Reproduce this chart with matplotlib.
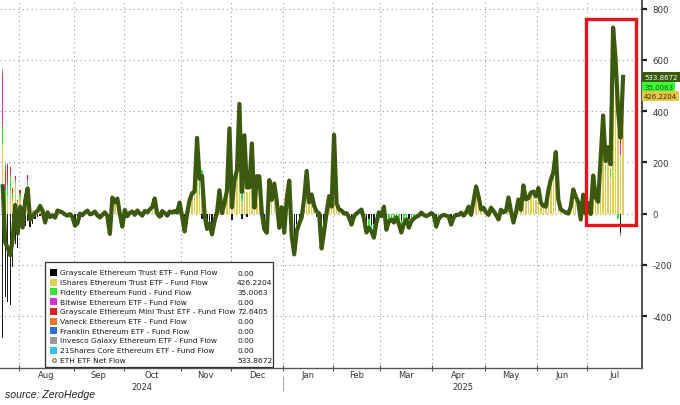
import numpy as np
import pandas as pd
import matplotlib
matplotlib.use("Agg")
import matplotlib.pyplot as plt
from matplotlib.patches import Rectangle
from matplotlib.lines import Line2D
import matplotlib.transforms as mtrans

plt.rcParams['font.family'] = ['DejaVu Sans']

# ---------------- data ----------------
holidays = ["2024-09-02", "2024-11-28", "2024-12-25", "2025-01-01", "2025-01-09",
            "2025-01-20", "2025-02-17", "2025-04-18", "2025-05-26", "2025-06-19", "2025-07-04"]
axis_days = pd.bdate_range("2024-07-23", "2025-07-31", freq="C", holidays=holidays)

net_jul24 = [106.6, -113.3, -133.3, -162.7, -98.3, 33.7, -77.2]
net_aug24 = [26.7, -54.3, 48.8, 98.4, -23.7, -12.0, 4.4, 10.0, 30.0, 10.8, -35.0, 5.0, -13.5, -6.5,
             -16.0, 12.0, 8.0, 4.0, -3.5, -8.0, -1.8, -15.0]
net_sep24 = [-47.4, -37.5, -0.2, -6.0, 5.0, 11.4, -3.0, 0.0, 8.0, -7.0, -15.1, -5.0, 5.0, -10.0,
             -79.3, 62.5, 43.2, 58.7, 0.0, -51.0]
net_oct24 = [14.0, -10.0, 3.0, 8.0, -5.0, 12.0, 0.5, -8.0, 10.0, 5.0, 16.0, 25.0, 59.0, 0.0, -12.0,
             10.0, 2.0, -8.0, 8.0, 4.0, 10.0, 4.0, 43.0]
net_nov24 = [-10.9, -70.0, 0.0, 52.3, 79.7, 85.9, 295.5, 135.9, 146.9, -3.2, -59.8, -39.1, -81.2,
             -30.0, 4.0, 91.2, 2.8, 40.7, 90.1, 332.9]
net_dec24 = [24.2, 132.6, 167.7, 428.5, 83.8, 305.7, 102.1, 102.2, 273.7, 23.6, 145.7, 145.6, 2.5,
             -60.5, -75.1, 130.8, 53.6, 117.2, 47.8, -55.4, 25.0]
net_jan25 = [-74.0, 58.9, 128.7, -86.8, -159.4, -68.4, -39.4, -15.0, 60.0, 166.6, 43.0, 74.5, 30.0,
             8.0, 0.0, -136.2, -70.0, 4.0, 67.8, 27.0]
net_feb25 = [307.8, 40.0, 16.0, 12.0, 0.0, 2.0, -15.0, -43.0, -10.0, 0.0, 8.0, 16.0, -20.0, -74.0,
             -55.0, -70.0, -94.0, -35.0, 5.0]
net_mar25 = [-10.0, 27.0, -63.0, -30.0, -23.0, -35.0, -15.0, -40.0, -74.0, -40.0, -23.0, -55.0,
             -30.0, -20.0, -12.0, -8.0, 4.0, -5.0, -10.0, -5.0, 2.0]
net_apr25 = [-5.0, -51.0, -20.0, -10.0, -5.0, -8.0, -12.0, -43.0, -15.0, -5.0, -5.0, 3.0, -8.0, 5.0,
             27.0, -5.0, 50.0, 106.0, 67.0, 16.0, 23.0]
net_may25 = [5.0, -5.0, 23.0, 10.0, -5.0, -23.0, 15.0, 5.0, 10.0, 63.0, 10.0, -35.0, 5.0, 55.0, 15.0,
             110.0, 55.0, 60.0, 82.0, 86.0, 67.0]
net_jun25 = [100.0, 43.0, 30.0, 27.0, 90.0, 133.0, 160.0, 240.3, 55.0, 16.0, 10.0, 4.0, 0.0, 27.0,
             94.0, 67.0, 45.0, -23.0, 74.0, 0.0]
net_jul25 = [40.7, -1.8, 148.5, 62.1, 46.2, 211.3, 383.1, 204.9, 259.0, 192.3, 726.6, 602.0, 402.5,
             296.6, 533.8672]

ishares_jul24 = [266.5, 17.4, 70.0, 87.2, 58.8, 118.4, 47.0]
ishares_aug24 = [61.7, 22.0, 47.1, 109.9, 18.0, 15.0, 10.0, 18.0, 23.0, 20.0, 6.0, 12.0, 0.0, 5.0,
                 0.0, 14.0, 10.0, 6.0, 0.0, 0.0, 2.0, 0.0]
ishares_sep24 = [0, 0, 4, 0, 8, 10, 0, 3, 6, 0, 0, 0, 5, 0, 0, 51, 35, 46, 4, 0]
ishares_oct24 = [12, 0, 4, 6, 0, 10, 2, 0, 8, 5, 14, 20, 46, 3, 0, 8, 3, 0, 7, 5, 9, 5, 35]
ishares_nov24 = [0, 0, 4, 39, 60, 70, 165, 70, 130, 10, 0, 0, 0, 5, 10, 70, 8, 35, 75, 250]
ishares_dec24 = [20, 80, 130, 290, 50, 230, 85, 90, 200, 20, 110, 100, 10, 0, 0, 110, 45, 90, 40, 0, 20]
ishares_jan25 = [0, 50, 100, 10, 0, 0, 0, 5, 50, 130, 35, 60, 25, 10, 4, 0, 0, 8, 55, 22]
ishares_feb25 = [276, 35, 14, 10, 3, 4, 0, 0, 0, 2, 7, 14, 0, 0, 0, 0, 0, 0, 5]
ishares_mar25 = [0, 22, 0, 0, 0, 0, 0, 0, 0, 0, 0, 0, 0, 0, 0, 0, 4, 0, 0, 0, 2]
ishares_apr25 = [0, 0, 0, 0, 0, 0, 0, 0, 0, 0, 0, 3, 0, 4, 22, 0, 40, 85, 55, 14, 20]
ishares_may25 = [4, 0, 20, 8, 0, 0, 12, 4, 8, 50, 8, 0, 5, 45, 12, 90, 45, 50, 70, 70, 55]
ishares_jun25 = [80, 35, 25, 22, 75, 110, 130, 163, 45, 14, 10, 5, 2, 22, 78, 55, 38, 0, 60, 3]
ishares_jul25 = [35, 5, 125, 55, 40, 159, 300, 166, 198, 139, 499, 546, 440, 230, 426.2204]

grayscale_flow = {
    "2024-07-23": -484.1, "2024-07-24": -326.9, "2024-07-25": -346.2, "2024-07-26": -356.3,
    "2024-07-29": -210.0, "2024-07-30": -120.3, "2024-07-31": -133.0, "2024-08-01": -45.0,
    "2024-08-02": -61.2, "2024-08-05": -46.8, "2024-08-06": -30.0, "2024-08-07": -52.0,
    "2024-08-08": -39.0, "2024-08-09": -19.8, "2024-08-12": -13.0, "2024-08-13": -10.0,
    "2024-08-14": -12.0, "2024-08-15": -41.0, "2024-08-16": -8.0, "2024-08-19": -13.5,
    "2024-08-20": -11.5, "2024-08-21": -16.0, "2024-08-22": -4.0, "2024-08-26": -6.0,
    "2024-08-27": -3.5, "2024-08-28": -8.0, "2024-08-29": -4.0, "2024-08-30": -15.0,
    "2024-09-03": -47.4, "2024-09-04": -37.5, "2024-09-05": -4.0, "2024-09-06": -6.0,
    "2024-09-11": -3.0, "2024-09-16": -7.0, "2024-09-17": -15.1, "2024-09-18": -5.0,
    "2024-09-20": -10.0, "2024-09-23": -74.3, "2024-09-27": -4.0, "2024-09-30": -51.0,
    "2024-10-02": -10.0, "2024-10-07": -5.0, "2024-10-10": -8.0, "2024-10-22": -12.0,
    "2024-10-25": -8.0, "2024-11-01": -10.9, "2024-11-04": -45.0, "2024-11-05": -4.0,
    "2024-11-13": -23.0, "2024-11-14": -13.2, "2024-11-15": -39.8, "2024-11-18": -39.1,
    "2024-11-19": -41.2, "2024-11-20": -35.0, "2024-11-21": -6.0, "2024-11-25": -5.2,
    "2024-12-02": -25.0, "2024-12-06": -20.0, "2024-12-10": -15.0, "2024-12-18": -7.5,
    "2024-12-19": -30.5, "2024-12-20": -40.1, "2024-12-30": -30.4, "2025-01-02": -44.0,
    "2025-01-07": -41.8, "2025-01-08": -89.4, "2025-01-10": -40.4, "2025-01-13": -39.4,
    "2025-01-14": -20.0, "2025-01-23": -15.0, "2025-01-27": -66.2, "2025-01-28": -40.0,
    "2025-02-11": -15.0, "2025-02-12": -30.0, "2025-02-20": -20.0, "2025-02-21": -54.0,
    "2025-02-24": -21.0, "2025-02-25": -45.0, "2025-02-26": -40.0, "2025-03-05": -23.0,
    "2025-03-13": -30.0, "2025-03-18": -20.0, "2025-04-02": -21.0, "2025-04-10": -23.0,
    "2025-07-21": -74.0,
}
fidelity_flow = {
    "2024-07-23": 71.3, "2024-07-24": 74.5, "2024-07-25": 43.0, "2024-07-26": 60.0,
    "2024-07-29": 16.0, "2024-07-30": 12.0, "2024-07-31": 2.0, "2024-08-01": 15.0,
    "2024-08-05": 16.0, "2024-08-06": 15.0, "2024-09-23": -5.0, "2024-09-24": 8.0,
    "2024-09-26": 10.0, "2024-11-04": -25.0, "2024-11-06": 15.0, "2024-11-08": 12.0,
    "2024-11-11": 115.0, "2024-11-12": 60.0, "2024-11-13": 40.0, "2024-11-15": -20.0,
    "2024-11-19": -40.0, "2024-11-22": 20.0, "2024-11-29": 60.0, "2024-12-03": 40.0,
    "2024-12-04": 30.0, "2024-12-05": 110.0, "2024-12-06": 40.0, "2024-12-09": 60.0,
    "2024-12-12": 60.0, "2024-12-16": 30.0, "2024-12-17": 45.0, "2024-12-19": -30.0,
    "2024-12-20": -35.0, "2024-12-23": 20.0, "2024-12-26": 27.0, "2024-12-30": -25.0,
    "2025-01-02": -30.0, "2025-01-06": 28.0, "2025-01-07": -45.0, "2025-01-08": -70.0,
    "2025-01-10": -28.0, "2025-01-16": 36.0, "2025-01-27": -70.0, "2025-01-28": -30.0,
    "2025-02-03": 25.0, "2025-02-12": -13.0, "2025-02-21": -20.0, "2025-02-24": -34.0,
    "2025-02-25": -25.0, "2025-02-26": -54.0, "2025-02-27": -35.0,
    "2025-03-03": -10.0, "2025-03-05": -40.0, "2025-03-06": -30.0, "2025-03-07": -23.0,
    "2025-03-10": -35.0, "2025-03-11": -15.0, "2025-03-12": -40.0, "2025-03-13": -44.0,
    "2025-03-14": -40.0, "2025-03-17": -23.0, "2025-03-18": -35.0, "2025-03-19": -30.0,
    "2025-03-20": -20.0, "2025-03-21": -12.0, "2025-03-24": -8.0, "2025-03-26": -5.0,
    "2025-03-27": -10.0, "2025-03-28": -5.0, "2025-04-01": -5.0, "2025-04-02": -30.0,
    "2025-04-03": -20.0, "2025-04-04": -10.0, "2025-04-07": -5.0, "2025-04-08": -8.0,
    "2025-04-09": -12.0, "2025-04-10": -20.0, "2025-04-11": -15.0, "2025-04-14": -5.0,
    "2025-04-15": -5.0, "2025-04-17": -8.0, "2025-04-23": -5.0, "2025-04-24": 10.0,
    "2025-04-25": 21.0, "2025-05-02": -5.0, "2025-05-07": -5.0, "2025-05-08": -23.0,
    "2025-05-14": 13.0, "2025-05-16": -35.0, "2025-05-20": 10.0, "2025-05-22": 20.0,
    "2025-05-29": 16.0, "2025-06-02": 20.0, "2025-06-09": 15.0, "2025-06-10": 23.0,
    "2025-06-11": 60.0, "2025-06-24": 16.0, "2025-06-26": -23.0, "2025-06-27": 14.0,
    "2025-07-03": 23.0, "2025-07-10": 50.0, "2025-07-11": 25.0, "2025-07-14": 40.0,
    "2025-07-15": 35.0, "2025-07-16": 113.0, "2025-07-17": 30.0, "2025-07-18": -20.0,
    "2025-07-21": -15.0, "2025-07-22": 35.0063,
}
bitwise_flow = {"2024-07-23": 204.2, "2024-07-24": 29.1, "2024-07-25": 15.0, "2024-07-26": 10.0,
                "2024-07-29": 7.0, "2024-07-30": 5.0, "2024-08-01": 4.0, "2024-08-06": 6.0,
                "2024-11-12": 8.0, "2024-12-05": 8.0, "2025-07-16": 25.0, "2025-07-21": 40.0}
mini_flow = {"2024-07-24": 45.9, "2024-07-25": 60.0, "2024-07-26": 26.0, "2024-07-29": 20.0,
             "2024-07-30": 12.0, "2024-07-31": 3.0, "2024-08-01": 10.0, "2024-08-05": 12.0,
             "2024-08-06": 18.0, "2024-11-12": 10.0, "2024-11-29": 15.0, "2024-12-05": 20.0,
             "2024-12-09": 10.0, "2025-07-10": 20.0, "2025-07-16": 60.0, "2025-07-17": 20.0,
             "2025-07-21": 60.0, "2025-07-22": 72.6405}
vaneck_flow = {"2024-07-23": 9.8, "2024-07-24": 10.0, "2024-07-25": 6.0}
franklin_flow = {"2024-07-23": 2.3, "2024-07-24": 8.0}
invesco_flow = {"2024-07-23": 10.2, "2024-07-24": 3.0, "2024-07-25": 4.0}
shares21_flow = {"2024-07-23": 2.0, "2024-07-24": 5.0}

legend_labels = ["Grayscale Ethereum Trust ETF - Fund Flow", "iShares Ethereum Trust ETF - Fund Flow",
                 "Fidelity Ethereum Fund - Fund Flow", "Bitwise Ethereum ETF - Fund Flow",
                 "Grayscale Ethereum Mini Trust ETF - Fund Flow", "Vaneck Ethereum ETF - Fund Flow",
                 "Franklin Ethereum ETF - Fund Flow", "Invesco Galaxy Ethereum ETF - Fund Flow",
                 "21Shares Core Ethereum ETF - Fund Flow", "ETH ETF Net Flow"]
legend_values = ["0.00", "426.2204", "35.0063", "0.00", "72.6405", "0.00", "0.00", "0.00", "0.00",
                 "533.8672"]
month_names = ["Aug", "Sep", "Oct", "Nov", "Dec", "Jan", "Feb", "Mar", "Apr", "May", "Jun", "Jul"]
year_names = ["2024", "2025"]
ytick_vals = [-400, -200, 0, 200, 400, 600, 800]

# ---------------- assemble ----------------
net = np.array(net_jul24 + net_aug24 + net_sep24 + net_oct24 + net_nov24 + net_dec24 + net_jan25 +
               net_feb25 + net_mar25 + net_apr25 + net_may25 + net_jun25 + net_jul25)
ishares = np.array(ishares_jul24 + ishares_aug24 + ishares_sep24 + ishares_oct24 + ishares_nov24 +
                   ishares_dec24 + ishares_jan25 + ishares_feb25 + ishares_mar25 + ishares_apr25 +
                   ishares_may25 + ishares_jun25 + ishares_jul25, dtype=float)
n = len(net)
data_days = axis_days[:n]
pos_of = {d.strftime("%Y-%m-%d"): i for i, d in enumerate(data_days)}


def from_dict(dct):
    arr = np.zeros(n)
    for k, v in dct.items():
        if k in pos_of:
            arr[pos_of[k]] = v
    return arr


idx = np.arange(n)
series = [
    (from_dict(grayscale_flow), "#1c1c1c"),
    (ishares, "#e6cb52"),
    (from_dict(fidelity_flow), "#33e633"),
    (from_dict(bitwise_flow), "#d633d6"),
    (from_dict(mini_flow), "#e02020"),
    (from_dict(vaneck_flow), "#e8772a"),
    (from_dict(franklin_flow), "#2f6fd6"),
    (from_dict(invesco_flow), "#9a9a9a"),
    (from_dict(shares21_flow), "#35c3ee"),
]
legend_colors = ["#000000"] + [c for _, c in series[1:]]

# ---------------- figure ----------------
W, H = 680, 406
fig = plt.figure(figsize=(W / 100, H / 100), dpi=100)
fig.patch.set_facecolor("white")
ax_left, ax_right, ax_top, ax_bottom = 0, 642, 0, 369
ax = fig.add_axes([ax_left / W, 1 - ax_bottom / H, (ax_right - ax_left) / W, (ax_bottom - ax_top) / H])
ax.set_xlim(-1.1, 256.6)
ax.set_ylim(-603, 838)
ax.set_facecolor("white")

# month boundaries
months = axis_days.to_period("M")
starts = [i for i in range(len(axis_days)) if i == 0 or months[i] != months[i - 1]]
bounds = [s - 0.5 for s in starts] + [len(axis_days) - 0.5]
inner = bounds[1:-1]

grid_kw = dict(color="#9a9a9a", lw=0.8, linestyle=(0, (1, 3)), zorder=0)
for yv in ytick_vals:
    ax.axhline(yv, **grid_kw)
for b in inner:
    ax.axvline(b, **grid_kw)

# stacked bars
pos_base = np.zeros(n)
neg_base = np.zeros(n)
for vals, col in series:
    pos = np.where(vals > 0, vals, 0.0)
    neg = np.where(vals < 0, vals, 0.0)
    ax.bar(idx, pos, bottom=pos_base, width=0.55, color=col, lw=0, zorder=2)
    ax.bar(idx, neg, bottom=neg_base, width=0.55, color=col, lw=0, zorder=2)
    pos_base += pos
    neg_base += neg

# net line
ax.plot(idx, net, color="#3b5a0f", lw=3.0, solid_joinstyle="round", zorder=4)

# red box
ax.add_patch(Rectangle((234.1, -43), 20.1, 802, fill=False, ec="#e8141c", lw=2.4, zorder=6))

# axes styling
for s in ["left", "top"]:
    ax.spines[s].set_visible(False)
ax.spines["right"].set_color("#333333")
ax.spines["right"].set_linewidth(1.2)
ax.spines["bottom"].set_color("#555555")
ax.spines["bottom"].set_linewidth(1.0)
ax.spines["bottom"].set_linestyle((0, (3, 1)))

ax.yaxis.tick_right()
ax.set_yticks(ytick_vals)
ax.set_yticklabels([str(v) for v in ytick_vals])
ax.tick_params(axis="y", direction="out", length=3.5, width=1.6, color="#222222", pad=4,
               labelsize=6.2, labelcolor="#333333")
ax.set_xticks(inner)
ax.set_xticklabels([])
ax.tick_params(axis="x", direction="inout", length=4, width=0.8, color="#555555")

trans = mtrans.blended_transform_factory(ax.transData, ax.transAxes)
ax_h = ax_bottom - ax_top
month_y = -(376 - ax_bottom) / ax_h
year_y = -(388 - ax_bottom) / ax_h
for k, name in enumerate(month_names):
    c = (bounds[k + 1] + bounds[k + 2]) / 2
    ax.text(c, month_y, name, transform=trans, ha="center", va="center", fontsize=6.0,
            color="#333333", clip_on=False)
xl = ax.get_xlim()
jan_b = bounds[6]
ax.text((xl[0] + jan_b) / 2, year_y, year_names[0], transform=trans, ha="center", va="center",
        fontsize=6.0, color="#333333", clip_on=False)
ax.text((jan_b + xl[1]) / 2, year_y, year_names[1], transform=trans, ha="center", va="center",
        fontsize=6.0, color="#333333", clip_on=False)
ax.add_line(Line2D([jan_b, jan_b], [-(378 - ax_bottom) / ax_h, -(391 - ax_bottom) / ax_h],
                   transform=trans, color="#aaaaaa", lw=0.8, clip_on=False))

# right-side value boxes (background strips + text)
last = n - 1
box_specs = [(legend_values[9], "#3b5a0f", "white", 0),
             (legend_values[2], "#33ff33", "#1a5a1a", -10),
             (legend_values[1], "#e6c44a", "#3a3000", -19)]
for txt, fc, tc, dy in box_specs:
    ax.annotate(txt, xy=(1.0, net[last]), xycoords=("axes fraction", "data"),
                xytext=(2, dy), textcoords="offset pixels", ha="left", va="center",
                fontsize=5.0, color=tc, annotation_clip=False,
                bbox=dict(boxstyle="square,pad=0.3", fc=fc, ec="none"))


# ---------------- legend (figure pixels) ----------------
def fx(x):
    return x / W


def fy(y):
    return 1 - y / H


lg_l, lg_t, lg_r, lg_b = 45, 263, 273, 368
fig.add_artist(Rectangle((fx(lg_l), fy(lg_b)), fx(lg_r - lg_l), (lg_b - lg_t) / H,
                         transform=fig.transFigure, fc="white", ec="#333333", lw=0.9, zorder=10))
row0, dy_row = 273.5, 9.7
for i, lab in enumerate(legend_labels):
    yc = row0 + i * dy_row
    if i < 9:
        fig.add_artist(Rectangle((fx(50), fy(yc + 3.5)), fx(7), 7 / H, transform=fig.transFigure,
                                 fc=legend_colors[i], ec="none", zorder=11))
    else:
        fig.add_artist(Line2D([fx(53.5)], [fy(yc)], marker="o", ms=2.6, mfc="white",
                              mec="#556b2f", mew=0.7, transform=fig.transFigure, zorder=11))
    fig.text(fx(60), fy(yc), lab, ha="left", va="center", fontsize=5.4, color="#1a1a1a", zorder=12)
    fig.text(fx(237), fy(yc), legend_values[i], ha="left", va="center", fontsize=5.4,
             color="#1a1a1a", zorder=12)

fig.text(fx(5), fy(395), "source: ZeroHedge", ha="left", va="center", fontsize=7.6,
         style="italic", family="Liberation Sans", color="#222222")

fig.savefig("out.png", dpi=100, facecolor="white")
